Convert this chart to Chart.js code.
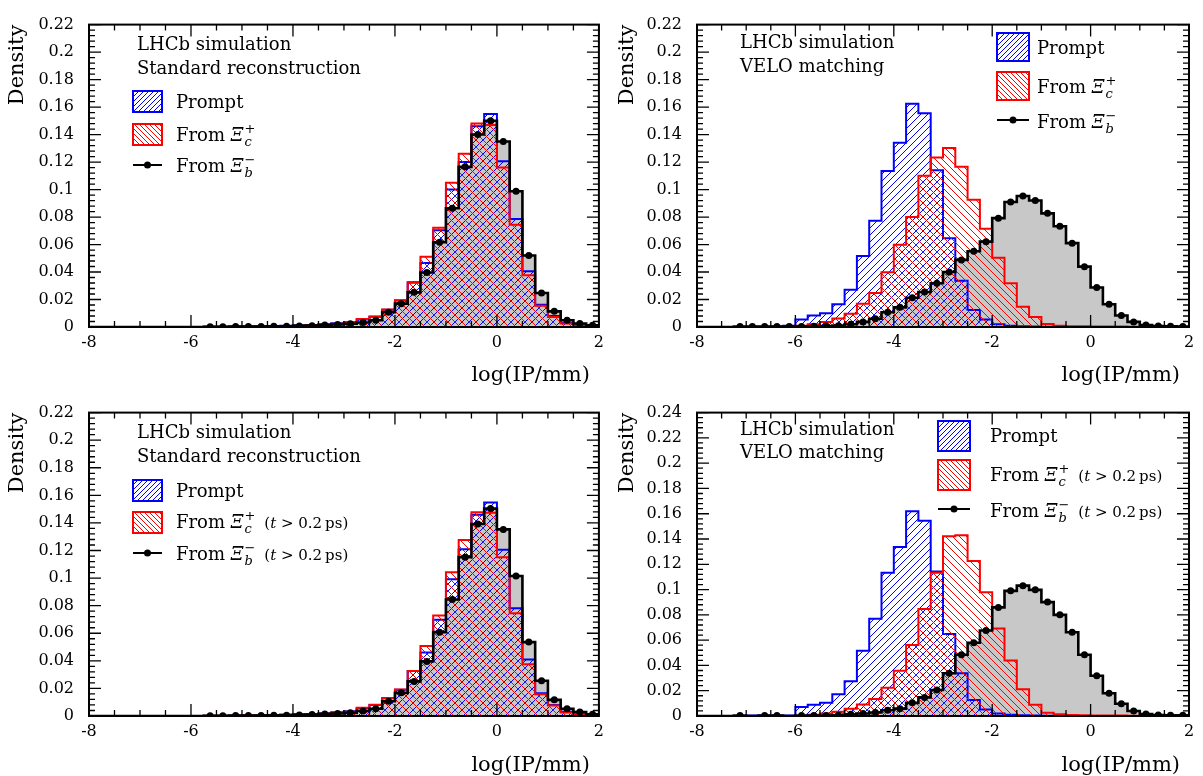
<!DOCTYPE html>
<html>
<head>
<meta charset="utf-8">
<script src="https://cdn.jsdelivr.net/npm/chart.js@4.4.0/dist/chart.umd.min.js"></script>
<style>
  body { margin: 0; background: #fff; width: 1203px; height: 776px; position: relative; overflow: hidden; }
  canvas { position: absolute; }
</style>
</head>
<body>
<canvas id="c1" width="610" height="390" style="left:0;top:0"></canvas>
<canvas id="c2" width="595" height="390" style="left:608px;top:0"></canvas>
<canvas id="c3" width="610" height="388" style="left:0;top:388px"></canvas>
<canvas id="c4" width="595" height="388" style="left:608px;top:388px"></canvas>
<script>
// Bin edges of log(IP/mm), 40 bins
const edges = [-8, -7.75, -7.5, -7.25, -7, -6.75, -6.5, -6.25, -6, -5.75, -5.5, -5.25, -5, -4.75, -4.5, -4.25,
  -4, -3.75, -3.5, -3.25, -3, -2.75, -2.5, -2.25, -2, -1.75, -1.5, -1.25, -1, -0.75, -0.5, -0.25,
  0, 0.25, 0.5, 0.75, 1, 1.25, 1.5, 1.75, 2];
const xTickStep = 2;
const yTickStep = 0.02;

// Standard reconstruction
const stdPrompt = [0,0,0,0,0,0,0,0,0, 0.0002,0.0002,0.0003,0.0004,0.0005, 0.0007,0.0009,0.0012,0.0015,0.002,
  0.0027,0.0035,0.0054,0.0075,0.0125, 0.0192,0.0325,0.0465,0.0703,0.100, 0.120,0.146,0.155,0.1205,0.0785,
  0.0406,0.0162,0.008,0.003,0.0012, 0.0005];
const stdXic = [0,0,0,0,0,0,0,0,0, 0.0001,0.0002,0.0002,0.0003,0.0004, 0.0006,0.0008,0.001,0.0013,0.0017,
  0.0023,0.003,0.0058,0.0077,0.0128, 0.0194,0.0322,0.0511,0.0722,0.105, 0.126,0.148,0.147,0.116,0.0743,
  0.0376,0.0154,0.0072,0.0025,0.001, 0.0004];
const stdXib = [0,0,0,0,0,0,0,0,0, 0.0002,0.0002,0.0003,0.0003,0.0004, 0.0005,0.0006,0.0008,0.001,0.0014,
  0.0018,0.0024,0.0033,0.0049,0.0107, 0.017,0.0252,0.0397,0.0617,0.0864, 0.1165,0.140,0.150,0.135,0.0988,
  0.052,0.0247,0.0114,0.0049,0.0026, 0.0012];

// VELO matching
const veloPrompt = [0,0,0,0,0.0002, 0.0002,0.0003,0.001,0.0054,0.0084, 0.010,0.0166,0.0271,0.0516,0.0773,
  0.1135,0.134,0.1625,0.1555,0.114, 0.0645,0.0336,0.0124,0.0054,0.002, 0.001,0.0005,0.0003,0.0002,0.0001,
  0,0,0,0,0, 0,0,0,0,0];
const veloXic = [0,0,0,0,0, 0,0,0,0.001,0.002, 0.0037,0.0061,0.0096,0.017,0.0247, 0.0399,0.0598,0.080,0.110,0.1233,
  0.1303,0.1165,0.0925,0.0715,0.0504, 0.0318,0.0147,0.0072,0.0021,0.001, 0.0006,0.0005,0.0004,0.0003,0.0003,
  0.0002,0.0002,0.0001,0.0001,0.0001];
const veloXib = [0,0,0,0.0003,0.0003, 0.0003,0.0003,0.0003,0.0004,0.0005, 0.0007,0.001,0.002,0.0037,0.006,
  0.0107,0.0143,0.0213,0.0255,0.0318, 0.040,0.0488,0.0551,0.0621,0.0792, 0.0909,0.0953,0.092,0.0827,0.0733,
  0.061,0.0439,0.0287,0.0166,0.0084, 0.0037,0.0014,0.0007,0.0005,0.0004];

// Standard reconstruction, t > 0.2 ps
const stdPromptT = [0,0,0,0,0,0,0,0,0, 0.0002,0.0002,0.0003,0.0004,0.0005, 0.0007,0.0009,0.0012,0.0015,0.002,
  0.0027,0.0035,0.0058,0.008,0.0128, 0.019,0.0326,0.0461,0.0698,0.0992, 0.121,0.146,0.1548,0.1206,0.0782,
  0.041,0.0165,0.008,0.003,0.0012, 0.0005];
const stdXicT = [0,0,0,0,0,0,0,0,0, 0.0001,0.0002,0.0002,0.0003,0.0004, 0.0006,0.0008,0.001,0.0013,0.0017,
  0.0023,0.003,0.006,0.0081,0.013, 0.0193,0.0326,0.0508,0.0729,0.1043, 0.1276,0.1478,0.1474,0.1152,0.0745,
  0.0375,0.0158,0.0077,0.0025,0.001, 0.0004];
const stdXibT = [0,0,0,0,0,0,0,0,0, 0.0002,0.0002,0.0003,0.0003,0.0004, 0.0005,0.0006,0.0008,0.001,0.0014,
  0.0018,0.0023,0.0037,0.0053,0.0107, 0.0168,0.0251,0.0396,0.0608,0.0845, 0.1152,0.1392,0.1504,0.1353,0.1015,
  0.0536,0.0256,0.0117,0.0053,0.0029, 0.0013];

// VELO matching, t > 0.2 ps
const veloPromptT = [0,0,0,0,0.0003, 0.0003,0.0003,0.0003,0.0071,0.0089, 0.0104,0.0173,0.0274,0.0516,0.077,
  0.1133,0.1336,0.162,0.1544,0.1143, 0.0648,0.0338,0.0127,0.0051,0.002, 0.001,0.0005,0.0003,0.0002,0.0001,
  0,0,0,0,0, 0,0,0,0,0];
const veloXicT = [0,0,0,0,0, 0,0,0,0,0.001, 0.002,0.0033,0.0058,0.0091,0.0135, 0.0224,0.0358,0.0561,0.0846,0.1133,
  0.1422,0.143,0.1227,0.0978,0.0693, 0.044,0.0211,0.0089,0.0025,0.0013, 0.0007,0.0005,0.0004,0.0003,0.0003,
  0.0002,0.0002,0.0001,0.0001,0.0001];
const veloXibT = [0,0,0,0.0003,0, 0.0003,0.0003,0,0.0003,0.0003, 0.0004,0.0006,0.0013,0.002,0.0028,
  0.0046,0.0058,0.0104,0.0147,0.0206, 0.0338,0.0485,0.0579,0.0676,0.0859, 0.099,0.1031,0.0998,0.0901,0.080,
  0.0663,0.0485,0.0318,0.018,0.0097, 0.004,0.0015,0.0008,0.0006,0.0005];

const FONT = '"DejaVu Serif", serif';
const BLUE = '#0000ff', RED = '#ff0000', GREY = '#c8c8c8';

// histogram outline as step points
function steps(vals) {
    const pts = [{x: edges[0], y: 0}];
    vals.forEach((v, i) => pts.push({x: edges[i], y: v}));
    pts.push({x: edges[vals.length], y: vals[vals.length - 1]});
    pts.push({x: edges[vals.length], y: 0});
    return pts;
}

// markers at bin centres
function dots(vals) {
    return vals.map((v, i) => ({x: (edges[i] + edges[i + 1]) / 2, y: v})).filter(p => p.y > 0);
}

// crisp 1px diagonal hatch, like ROOT fill styles
function hatch(ctx, color, dir, s) {
    s = s || 7;
    const c = document.createElement('canvas');
    c.width = s; c.height = s;
    const g = c.getContext('2d');
    g.fillStyle = color;
    for (let i = 0; i < s; i++) {
        g.fillRect(i, dir > 0 ? s - 1 - i : i, 1, 1);
    }
    return ctx.createPattern(c, 'repeat');
}

// frame with inward ticks on all four sides
const frameTicks = {
    id: 'frameTicks',
    afterDatasetsDraw(chart) {
        const {ctx, chartArea: a, scales: {x, y}} = chart;
        ctx.save();
        ctx.strokeStyle = '#000';
        ctx.lineWidth = 1.3;
        ctx.beginPath();
        const ny = Math.round(y.max / 0.004);
        for (let k = 0; k <= ny; k++) {
            const py = y.getPixelForValue(k * 0.004);
            const len = k % 5 === 0 ? 12 : 6;
            ctx.moveTo(a.left, py); ctx.lineTo(a.left + len, py);
            ctx.moveTo(a.right, py); ctx.lineTo(a.right - len, py);
        }
        for (let k = 0; k <= 20; k++) {
            const px = x.getPixelForValue(-8 + k * 0.5);
            const len = k % 4 === 0 ? 12 : 6;
            ctx.moveTo(px, a.bottom); ctx.lineTo(px, a.bottom - len);
            ctx.moveTo(px, a.top); ctx.lineTo(px, a.top + len);
        }
        ctx.stroke();
        ctx.lineWidth = 2;
        ctx.strokeRect(a.left, a.top, a.right - a.left, a.bottom - a.top);
        ctx.restore();
    }
};

function drawXi(ctx, x, y, sign, sub, withT) {
    ctx.font = '18px ' + FONT;
    ctx.fillText('From ', x, y);
    x += ctx.measureText('From ').width;
    ctx.font = 'italic 18px ' + FONT;
    ctx.fillText('\u039E', x, y);
    x += ctx.measureText('\u039E').width + 1;
    ctx.font = '13px ' + FONT;
    const w1 = ctx.measureText(sign).width;
    ctx.fillText(sign, x, y - 8);
    ctx.font = 'italic 13px ' + FONT;
    const w2 = ctx.measureText(sub).width;
    ctx.fillText(sub, x, y + 5);
    x += Math.max(w1, w2);
    if (withT) {
        x += 9;
        ctx.font = '15px ' + FONT;
        ctx.fillText('(', x, y);
        x += ctx.measureText('(').width;
        ctx.font = 'italic 15px ' + FONT;
        ctx.fillText('t', x, y);
        x += ctx.measureText('t').width;
        ctx.font = '15px ' + FONT;
        ctx.fillText(' > 0.2\u2009ps)', x, y);
    }
}

function textPlugin(cfg) {
    return {
        id: 'panelText',
        afterDraw(chart) {
            const ctx = chart.ctx, a = chart.chartArea;
            ctx.save();
            ctx.fillStyle = '#000';
            ctx.textAlign = 'left';
            ctx.textBaseline = 'alphabetic';
            ctx.font = '18px ' + FONT;
            ctx.fillText('LHCb simulation', cfg.tx, cfg.ty[0]);
            ctx.fillText(cfg.sub, cfg.tx, cfg.ty[1]);

            // legend
            const L = cfg.leg;
            ctx.lineWidth = 2;
            ctx.fillStyle = hatch(ctx, BLUE, 1, 5);
            ctx.fillRect(L.bx, L.by[0], L.bw, L.bh);
            ctx.strokeStyle = BLUE;
            ctx.strokeRect(L.bx, L.by[0], L.bw, L.bh);
            ctx.fillStyle = hatch(ctx, RED, -1, 5);
            ctx.fillRect(L.bx, L.by[1], L.bw, L.bh);
            ctx.strokeStyle = RED;
            ctx.strokeRect(L.bx, L.by[1], L.bw, L.bh);
            ctx.strokeStyle = '#000';
            ctx.beginPath();
            ctx.moveTo(L.bx, L.by[2]); ctx.lineTo(L.bx + L.bw, L.by[2]);
            ctx.stroke();
            ctx.fillStyle = '#000';
            ctx.beginPath();
            ctx.arc(L.bx + L.bw / 2, L.by[2], 3.5, 0, Math.PI * 2);
            ctx.fill();

            ctx.font = '18px ' + FONT;
            ctx.fillText('Prompt', L.lx, L.ly[0]);
            drawXi(ctx, L.lx, L.ly[1], '+', 'c', cfg.withT);
            drawXi(ctx, L.lx, L.ly[2], '\u2212', 'b', cfg.withT);

            // axis titles
            ctx.font = '21px ' + FONT;
            ctx.textAlign = 'right';
            ctx.textBaseline = 'middle';
            ctx.fillText('log(IP/mm)', a.right - 9, cfg.xt);
            ctx.translate(cfg.dx, a.top);
            ctx.rotate(-Math.PI / 2);
            ctx.fillText('Density', 0, 0);
            ctx.restore();
        }
    };
}

function makePanel(p) {
    const el = document.getElementById(p.id);
    const ctx = el.getContext('2d');
    const base = {pointRadius: 0, stepped: true, fill: 'origin'};
    return new Chart(el, {
        type: 'line',
        data: {
            datasets: [
                {...base, data: steps(p.xib), backgroundColor: GREY, borderWidth: 0, order: 6},
                {...base, data: steps(p.prompt), backgroundColor: hatch(ctx, BLUE, 1), borderColor: BLUE, borderWidth: 2, order: 5},
                {...base, data: steps(p.xic), backgroundColor: hatch(ctx, RED, -1), borderColor: RED, borderWidth: 2, order: 4},
                {...base, data: steps(p.xib), fill: false, borderColor: '#000', borderWidth: 2.6, order: 3},
                {data: dots(p.xib), showLine: false, pointRadius: 3.5, pointBackgroundColor: '#000',
                 pointBorderWidth: 0, order: 2}
            ]
        },
        options: {
            responsive: false,
            animation: false,
            events: [],
            layout: {padding: {top: 13, right: p.padRight, left: 0, bottom: 0}},
            plugins: {legend: {display: false}, tooltip: {enabled: false}},
            scales: {
                x: {
                    type: 'linear', min: -8, max: 2,
                    grid: {display: false, drawTicks: false},
                    border: {display: false},
                    ticks: {stepSize: xTickStep, padding: 6, color: '#000', font: {family: FONT, size: 16}},
                    afterFit: s => { s.height = p.xh; }
                },
                y: {
                    min: 0, max: p.yMax,
                    grid: {display: false, drawTicks: false},
                    border: {display: false},
                    ticks: {stepSize: yTickStep, padding: 15, color: '#000', font: {family: FONT, size: 16},
                            callback: v => String(+v.toFixed(2))},
                    afterFit: s => { s.width = 89; }
                }
            }
        },
        plugins: [frameTicks, textPlugin(p.text)]
    });
}

makePanel({id: 'c1', padRight: 9, xh: 63, yMax: 0.22, prompt: stdPrompt, xic: stdXic, xib: stdXib,
    text: {tx: 137, ty: [50, 74], sub: 'Standard reconstruction', withT: false, xt: 376, dx: 18,
           leg: {bx: 133, bw: 29, bh: 21, by: [91, 124, 165], lx: 176, ly: [108, 141, 172]}}});
makePanel({id: 'c2', padRight: 14, xh: 63, yMax: 0.22, prompt: veloPrompt, xic: veloXic, xib: veloXib,
    text: {tx: 132, ty: [48, 72], sub: 'VELO matching', withT: false, xt: 376, dx: 20,
           leg: {bx: 389, bw: 32, bh: 28, by: [33, 72, 120], lx: 429, ly: [54, 93, 128]}}});
makePanel({id: 'c3', padRight: 9, xh: 60, yMax: 0.22, prompt: stdPromptT, xic: stdXicT, xib: stdXibT,
    text: {tx: 137, ty: [50, 74], sub: 'Standard reconstruction', withT: true, xt: 378, dx: 18,
           leg: {bx: 133, bw: 29, bh: 21, by: [92, 124, 165], lx: 176, ly: [109, 140, 172]}}});
makePanel({id: 'c4', padRight: 14, xh: 60, yMax: 0.24, prompt: veloPromptT, xic: veloXicT, xib: veloXibT,
    text: {tx: 132, ty: [47, 70], sub: 'VELO matching', withT: true, xt: 378, dx: 20,
           leg: {bx: 330, bw: 32, bh: 30, by: [33, 72, 121], lx: 382, ly: [54, 93, 129]}}});
</script>
</body>
</html>
